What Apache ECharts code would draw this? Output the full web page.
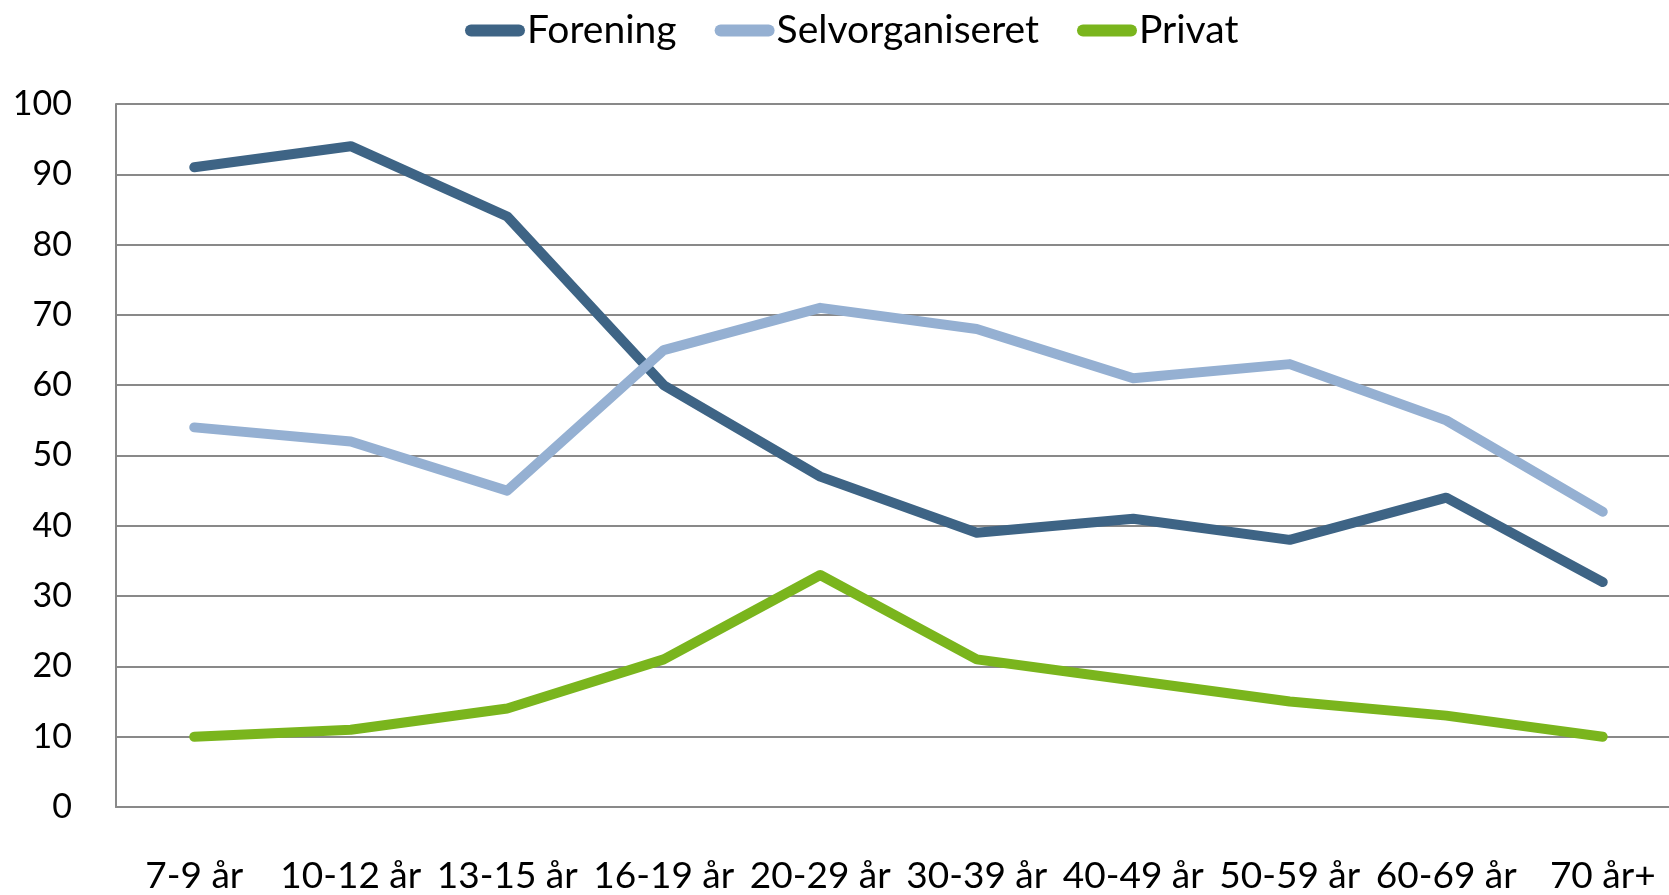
<!DOCTYPE html>
<html><head><meta charset="utf-8">
<script src="https://cdn.jsdelivr.net/npm/echarts@6/dist/echarts.min.js"></script>
<style>html,body{margin:0;padding:0;background:#fff;overflow:hidden}
#wrap{width:1669px;height:895px;overflow:hidden;position:relative}
#c{width:1681px;height:895px;position:absolute;left:0;top:0}</style>
</head><body><div id="wrap"><div id="c"></div></div>
<script>
const categories = ['7-9 år','10-12 år','13-15 år','16-19 år','20-29 år','30-39 år','40-49 år','50-59 år','60-69 år','70 år+'];
const forening = [91, 94, 84, 60, 47, 39, 41, 38, 44, 32];
const selvorganiseret = [54, 52, 45, 65, 71, 68, 61, 63, 55, 42];
const privat = [10, 11, 14, 21, 33, 21, 18, 15, 13, 10];
const yTicks = [0,10,20,30,40,50,60,70,80,90,100];

const chart = echarts.init(document.getElementById('c'));
const pill = 'path://M6,0 H54 A6,6 0 0 1 54,12 H6 A6,6 0 0 1 6,0 Z';
const FONT = 'Lato, sans-serif';
function ser(name, data, color){
  return {name, type:'line', data, symbol:'none', smooth:false,
    lineStyle:{color, width:10, cap:'round', join:'round'}, itemStyle:{color}};
}
chart.setOption({
  animation:false,
  legend:{top:6, left:460, itemWidth:60, itemHeight:13, itemGap:38, icon:pill,
    textStyle:{fontFamily:FONT, fontSize:39, color:'#000', padding:[0,0,0,-3]},
    data:['Forening','Selvorganiseret','Privat']},
  grid:{left:116, right:0, top:104, height:710, containLabel:false},
  xAxis:{type:'category', data:categories, boundaryGap:true,
    axisLine:{lineStyle:{color:'#898989', width:2}}, axisTick:{show:false},
    axisLabel:{margin:51, fontFamily:FONT, fontSize:37, color:'#000', interval:0}},
  yAxis:{type:'value', min:0, max:100, interval:10,
    axisLine:{show:true, lineStyle:{color:'#898989', width:2}}, axisTick:{show:false},
    splitLine:{lineStyle:{color:'#898989', width:2}},
    axisLabel:{margin:44, fontFamily:FONT, fontSize:34, color:'#000',
      formatter:v=>yTicks.includes(v)?String(v):''}},
  series:[ser('Forening', forening, '#3E6485'), ser('Selvorganiseret', selvorganiseret, '#95B0D2'), ser('Privat', privat, '#7AB51D')]
});
</script></body></html>
